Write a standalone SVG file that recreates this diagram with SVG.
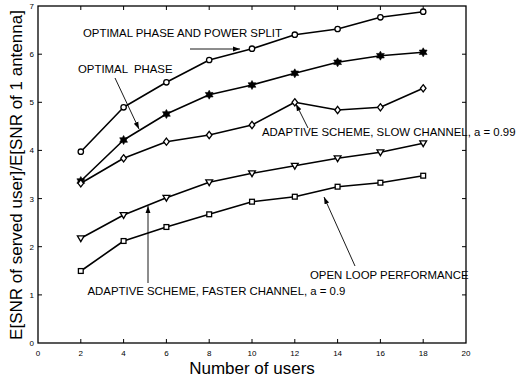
<svg xmlns="http://www.w3.org/2000/svg" width="518" height="378" viewBox="0 0 518 378">
<style>
text{font-family:"Liberation Sans",Arial,sans-serif;fill:#000}
.tk{font-size:8px}
.ann{font-size:11.4px}
.lab{font-size:17px}
.frame{fill:none;stroke:#000;stroke-width:1.3}
.tick{stroke:#000;stroke-width:1}
.data{fill:none;stroke:#000;stroke-width:1.6;stroke-linejoin:round}
.mk{fill:#fff;stroke:#000;stroke-width:1.3}
.arr{stroke:#000;stroke-width:0.9;fill:none;marker-end:url(#ah)}
</style>
<defs>
<marker id="ah" viewBox="0 0 10 10" refX="10" refY="5" markerWidth="7" markerHeight="7" markerUnits="userSpaceOnUse" orient="auto">
<path d="M0,1.5 L10,5 L0,8.5 Z" fill="#000"/>
</marker>
<circle id="mc" r="2.7" class="mk"/>
<polygon id="ms" points="0,-4.5 1.3,-2.25 3.9,-2.25 2.6,0 3.9,2.25 1.3,2.25 0,4.5 -1.3,2.25 -3.9,2.25 -2.6,0 -3.9,-2.25 -1.3,-2.25" fill="#000" stroke="#000" stroke-width="0.6"/>
<polygon id="md" points="0,-3.6 2.8,0 0,3.6 -2.8,0" class="mk"/>
<polygon id="mt" points="-3.4,-2.4 3.4,-2.4 0,3.4" class="mk"/>
<rect id="mq" x="-2.4" y="-2.4" width="4.8" height="4.8" class="mk"/>
</defs>
<rect width="518" height="378" fill="#fff"/>
<g id="axes">
<rect x="38" y="6" width="428" height="337" class="frame"/>
<g class="tick">
<path d="M80.8,343v-4M123.6,343v-4M166.4,343v-4M209.2,343v-4M252,343v-4M294.8,343v-4M337.6,343v-4M380.4,343v-4M423.2,343v-4"/>
<path d="M80.8,6v4M123.6,6v4M166.4,6v4M209.2,6v4M252,6v4M294.8,6v4M337.6,6v4M380.4,6v4M423.2,6v4"/>
<path d="M38,294.9h4M38,246.7h4M38,198.6h4M38,150.4h4M38,102.3h4M38,54.2h4"/>
<path d="M466,294.9h-4M466,246.7h-4M466,198.6h-4M466,150.4h-4M466,102.3h-4M466,54.2h-4"/>
</g>
<g class="tk" text-anchor="middle">
<text x="38" y="355.5">0</text><text x="80.8" y="355.5">2</text><text x="123.6" y="355.5">4</text><text x="166.4" y="355.5">6</text><text x="209.2" y="355.5">8</text><text x="252" y="355.5">10</text><text x="294.8" y="355.5">12</text><text x="337.6" y="355.5">14</text><text x="380.4" y="355.5">16</text><text x="423.2" y="355.5">18</text><text x="466" y="355.5">20</text>
</g>
<g class="tk" text-anchor="end">
<text x="34" y="346">0</text><text x="34" y="297.9">1</text><text x="34" y="249.7">2</text><text x="34" y="201.6">3</text><text x="34" y="153.4">4</text><text x="34" y="105.3">5</text><text x="34" y="57.2">6</text><text x="34" y="9">7</text>
</g>
<text class="lab" x="252" y="373.5" text-anchor="middle">Number of users</text>
<text class="lab" transform="translate(22,175) rotate(-90)" text-anchor="middle">E[SNR of served user]/E[SNR of 1 antenna]</text>
</g>
<g id="connectors">
<polyline class="data" points="80.8,151.7 123.6,107.3 166.4,82.3 209.2,60 252,48.7 294.8,34.7 337.6,29 380.4,17.3 423.2,11.7"/>
<polyline class="data" points="80.8,181 123.6,140 166.4,114 209.2,94.7 252,85 294.8,73.3 337.6,62.3 380.4,55.7 423.2,52.3"/>
<polyline class="data" points="80.8,183.3 123.6,158.3 166.4,141.7 209.2,135 252,125 294.8,102.3 337.6,110 380.4,107.3 423.2,88.3"/>
<polyline class="data" points="80.8,238.3 123.6,215 166.4,197.7 209.2,182.3 252,173.3 294.8,165.7 337.6,158.3 380.4,152.3 423.2,143.3"/>
<polyline class="data" points="80.8,271 123.6,241 166.4,227 209.2,214.3 252,201.7 294.8,196.7 337.6,186.7 380.4,182.7 423.2,175.7"/>
<line class="arr" x1="190" y1="49" x2="240" y2="49"/>
<line class="arr" x1="115" y1="78" x2="139" y2="129"/>
<line class="arr" x1="308" y1="128" x2="296" y2="104"/>
<line class="arr" x1="355" y1="266" x2="324" y2="197"/>
<line class="arr" x1="148" y1="283" x2="148" y2="206"/>
</g>
<g id="series-optimal-phase-power-split">
<use href="#mc" x="80.8" y="151.7"/><use href="#mc" x="123.6" y="107.3"/><use href="#mc" x="166.4" y="82.3"/><use href="#mc" x="209.2" y="60"/><use href="#mc" x="252" y="48.7"/><use href="#mc" x="294.8" y="34.7"/><use href="#mc" x="337.6" y="29"/><use href="#mc" x="380.4" y="17.3"/><use href="#mc" x="423.2" y="11.7"/>
</g>
<g id="series-optimal-phase">
<use href="#ms" x="80.8" y="181"/><use href="#ms" x="123.6" y="140"/><use href="#ms" x="166.4" y="114"/><use href="#ms" x="209.2" y="94.7"/><use href="#ms" x="252" y="85"/><use href="#ms" x="294.8" y="73.3"/><use href="#ms" x="337.6" y="62.3"/><use href="#ms" x="380.4" y="55.7"/><use href="#ms" x="423.2" y="52.3"/>
</g>
<g id="series-adaptive-slow">
<use href="#md" x="80.8" y="183.3"/><use href="#md" x="123.6" y="158.3"/><use href="#md" x="166.4" y="141.7"/><use href="#md" x="209.2" y="135"/><use href="#md" x="252" y="125"/><use href="#md" x="294.8" y="102.3"/><use href="#md" x="337.6" y="110"/><use href="#md" x="380.4" y="107.3"/><use href="#md" x="423.2" y="88.3"/>
</g>
<g id="series-adaptive-faster">
<use href="#mt" x="80.8" y="238.3"/><use href="#mt" x="123.6" y="215"/><use href="#mt" x="166.4" y="197.7"/><use href="#mt" x="209.2" y="182.3"/><use href="#mt" x="252" y="173.3"/><use href="#mt" x="294.8" y="165.7"/><use href="#mt" x="337.6" y="158.3"/><use href="#mt" x="380.4" y="152.3"/><use href="#mt" x="423.2" y="143.3"/>
</g>
<g id="series-open-loop">
<use href="#mq" x="80.8" y="271"/><use href="#mq" x="123.6" y="241"/><use href="#mq" x="166.4" y="227"/><use href="#mq" x="209.2" y="214.3"/><use href="#mq" x="252" y="201.7"/><use href="#mq" x="294.8" y="196.7"/><use href="#mq" x="337.6" y="186.7"/><use href="#mq" x="380.4" y="182.7"/><use href="#mq" x="423.2" y="175.7"/>
</g>
<g id="label-power-split"><text class="ann" x="83" y="37">OPTIMAL PHASE AND POWER SPLIT</text></g>
<g id="label-optimal-phase"><text class="ann" x="78" y="73" xml:space="preserve">OPTIMAL  PHASE</text></g>
<g id="label-adaptive-slow"><text class="ann" x="262" y="136">ADAPTIVE SCHEME, SLOW CHANNEL, a = 0.99</text></g>
<g id="label-open-loop"><text class="ann" x="310" y="279">OPEN LOOP PERFORMANCE</text></g>
<g id="label-adaptive-faster"><text class="ann" x="87.5" y="295">ADAPTIVE SCHEME, FASTER CHANNEL, a = 0.9</text></g>
</svg>
